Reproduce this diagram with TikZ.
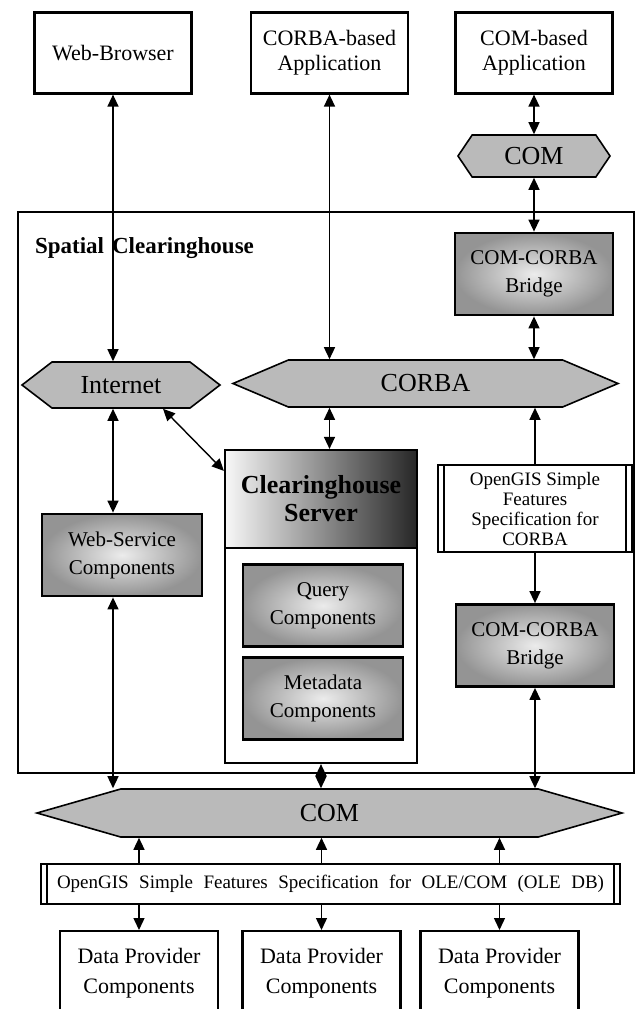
\documentclass[tikz,border=0pt]{standalone}
\usepackage{fontspec}
\setmainfont{Liberation Serif}
\usetikzlibrary{arrows.meta,shapes.symbols}
\tikzset{
  box/.style={draw,line width=1.1pt,inner sep=1pt,align=center,font=\fontsize{11}{12.5}\selectfont},
  app/.style={box,minimum width=78.5pt,minimum height=40.5pt},
  shd/.style={box,line width=1.4pt,font=\fontsize{10.5}{14}\selectfont,inner color=gray!15,outer color=black!42,minimum width=80pt,minimum height=41pt},
  hexa/.style={signal,signal to=east and west,draw,line width=0.8pt,fill=black!27,inner sep=0pt,font=\fontsize{13}{13}\selectfont},
  spec/.style={box,font=\fontsize{9.5}{10}\selectfont,path picture={
    \draw[line width=0.6pt] ([xshift=3pt]path picture bounding box.north west) -- ([xshift=3pt]path picture bounding box.south west)
      ([xshift=-3pt]path picture bounding box.north east) -- ([xshift=-3pt]path picture bounding box.south east);}},
  dprov/.style={box,anchor=north,minimum width=79pt,minimum height=42pt,font=\fontsize{11}{15}\selectfont},
  ar/.style={-{Triangle[length=6pt,width=5.5pt]},line width=0.7pt},
  dar/.style={{Triangle[length=6pt,width=5.5pt]}-{Triangle[length=6pt,width=5.5pt]},line width=0.7pt}
}
\begin{document}
\begin{tikzpicture}[x=0.5pt,y=-0.5pt]
\useasboundingbox (0,0) rectangle (638,1009);

% clients
\node[app] (web) at (113,53) {Web-Browser};
\node[app] (capp) at (329.5,53) {CORBA-based\\Application};
\node[app] (mapp) at (534,53) {COM-based\\Application};
\node[hexa,minimum width=76pt,minimum height=21pt,signal pointer angle=112] (comt) at (534,156) {COM};

% clearinghouse frame
\node[draw,line width=0.8pt,minimum width=308pt,minimum height=280.5pt] (frame) at (326,492.5) {};
\node[anchor=west,font=\bfseries\fontsize{11.5}{12}\selectfont] (title) at (28,248) {Spatial\hspace{4pt}Clearinghouse};

\node[shd,minimum width=79pt] (brga) at (534,274) {COM-CORBA\\Bridge};
\node[hexa,minimum width=99pt,minimum height=23pt,signal pointer angle=75] (inet) at (121,385) {Internet};
\node[hexa,minimum width=192.5pt,minimum height=23.5pt,signal pointer angle=46] (corba) at (425.5,383.5) {CORBA};

\node[draw,line width=1.1pt,minimum width=96pt,minimum height=156.5pt] (srvbox) at (321,606.5) {};
\node[draw,line width=1.1pt,minimum width=96pt,minimum height=49pt,align=center,
  left color=gray!6,middle color=gray!35,right color=black!85,
  font=\bfseries\fontsize{13}{14}\selectfont] (srv) at (321,499) {Clearinghouse\\Server};
\node[shd] (qry) at (323,605.5) {Query\\Components};
\node[shd] (meta) at (323,698.5) {Metadata\\Components};

\node[shd] (websvc) at (122,555) {Web-Service\\Components};
\node[spec,minimum width=97pt,minimum height=43.5pt] (ogc) at (535,508.5) {OpenGIS Simple\\Features\\Specification for\\CORBA};
\node[shd,minimum width=79pt] (brgb) at (535,645.5) {COM-CORBA\\Bridge};

% data access
\node[hexa,minimum width=292.5pt,minimum height=24pt,signal pointer angle=32] (comb) at (329.5,813) {COM};
\node[spec,minimum width=289.5pt,minimum height=20pt] (ole) at (330.5,884)
  {\spaceskip=0.55em plus 0.1em\relax OpenGIS Simple Features Specification for OLE/COM (OLE DB)};
\node[dprov] (dpa) at (139,930) {Data Provider\\Components};
\node[dprov] (dpb) at (321.5,930) {Data Provider\\Components};
\node[dprov] (dpc) at (499.5,930) {Data Provider\\Components};

% connectors
\draw[dar] (web.south) -- (web.south |- inet.north);
\draw[dar] (capp.south) -- (capp.south |- corba.north);
\draw[dar] (mapp.south) -- (comt.north);
\draw[dar] (comt.south) -- (brga.north);
\draw[dar] (brga.south) -- (brga.south |- corba.north);
\draw[dar] ([xshift=21pt]inet.south) -- ([yshift=-11pt]srv.north west);
\draw[dar] (capp.south |- corba.south) -- (capp.south |- srv.north);
\draw[dar] (web.south |- inet.south) -- (web.south |- websvc.north);
\draw[ar] (ogc.north) -- (ogc.north |- corba.south);
\draw[ar] (ogc.south) -- (brgb.north);
\draw[dar] (web.south |- websvc.south) -- (web.south |- comb.north);
\draw[dar] (srvbox.south) -- (srvbox.south |- comb.north);
\draw[dar] (brgb.south) -- (brgb.south |- comb.north);
\foreach \d in {dpa,dpb,dpc}{
  \draw[ar] (\d.north |- ole.north) -- (\d.north |- comb.south);
  \draw[ar] (\d.north |- ole.south) -- (\d.north);
}
\end{tikzpicture}
\end{document}
